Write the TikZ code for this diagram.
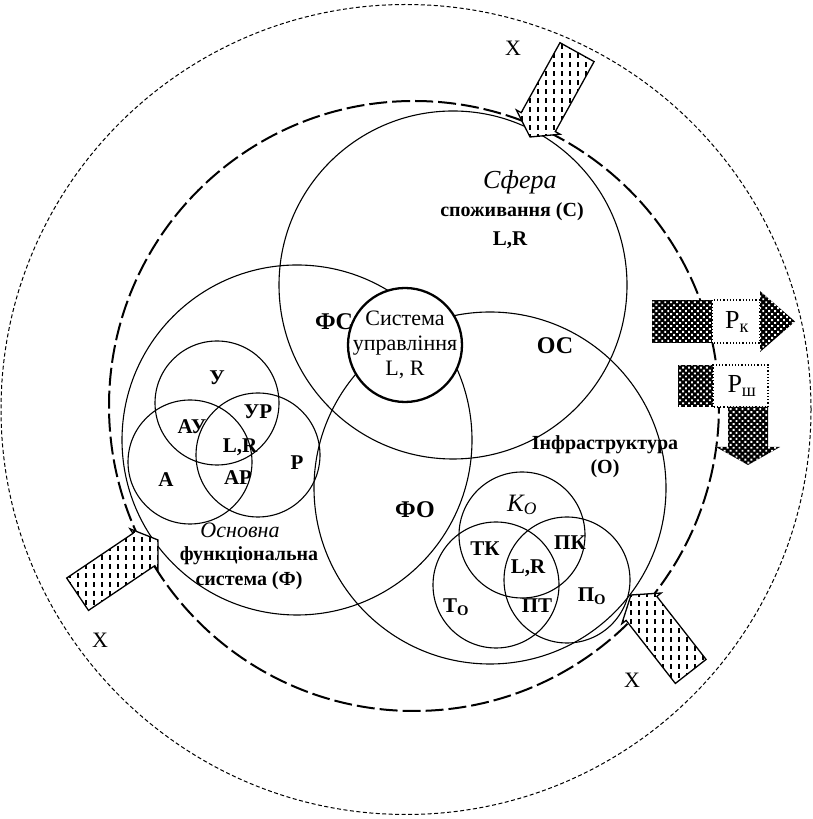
\documentclass[tikz,border=0pt]{standalone}
\usepackage{fontspec}
\setmainfont{Liberation Serif}
\usetikzlibrary{patterns.meta}

\tikzset{
  ring/.style={line width=1.1pt},
  big/.style={font=\fontsize{24}{26}\selectfont\bfseries},
  mid/.style={font=\fontsize{21}{23}\selectfont\bfseries},
  plain/.style={font=\fontsize{22}{25}\selectfont},
  mesh/.style={preaction={fill=black}, pattern={Dots[distance=4.2pt, radius=1.35pt, angle=45]}, pattern color=white},
}

% block arrow with short vertical strokes, tip at #1, pointing to angle #2
\newcommand\xarrow[2]{%
  \begin{scope}[shift={(#1)}, rotate=#2]
    \fill[white] (0,0) -- (-17,-25) -- (-17,-19.5) -- (-97,-19.5) -- (-97,19.5) -- (-17,19.5) -- (-17,25) -- cycle;
    \begin{scope}
      \clip (0,0) -- (-17,-25) -- (-17,-19.5) -- (-97,-19.5) -- (-97,19.5) -- (-17,19.5) -- (-17,25) -- cycle;
      \foreach \i in {-104,-96,...,104}
        \draw[rotate=-#2, line width=1.4pt, dash pattern=on 5pt off 4pt] (\i,-110) -- (\i,110);
    \end{scope}
    \draw[line width=1.3pt, line join=miter] (0,0) -- (-17,-25) -- (-17,-19.5) -- (-97,-19.5) -- (-97,19.5) -- (-17,19.5) -- (-17,25) -- cycle;
  \end{scope}}

\begin{document}
\begin{tikzpicture}[x=1pt,y=1pt]
\useasboundingbox (0,0) rectangle (813,819);

\coordinate (Out) at (406,409.5);
\coordinate (Bnd) at (414,413);
\coordinate (F) at (297,379);
\coordinate (C) at (453,534);
\coordinate (O) at (490,331);
\coordinate (S) at (405,474);
\coordinate (Fu) at (217,416);
\coordinate (Fa) at (190,357);
\coordinate (Fr) at (258,364);
\coordinate (Ok) at (522,284);
\coordinate (Ot) at (496,234);
\coordinate (Op) at (567,239);

\draw[line width=1pt, dash pattern=on 4pt off 2.5pt] (Out) circle (405);
\draw[line width=2pt, dash pattern=on 18pt off 5pt] (Bnd) circle (305);
\draw[ring] (F) circle (175);
\draw[ring] (C) circle (174);
\draw[ring] (O) circle (176);
\filldraw[fill=white, line width=2.3pt] (S) circle (57);
\draw[ring] (Fu) circle (62);
\draw[ring] (Fa) circle (62);
\draw[ring] (Fr) circle (62);
\draw[ring] (Ok) circle (63);
\draw[ring] (Ot) circle (63);
\draw[ring] (Op) circle (63);

\node[font=\fontsize{26}{28}\selectfont\itshape] (sfera) at (520,637) {Сфера};
\node[mid, font=\fontsize{20}{22}\selectfont\bfseries] (spoz) at (512,607) {споживання (С)};
\node[mid] (clr) at (510,579) {L,R};
\node[big] (fs) at (334,497) {ФС};
\node[big] (os) at (555,473) {ОС};
\node[big] (fo) at (415,309) {ФО};
\node[plain, align=center] (sys) at (S) {Система\\управління\\L, R};
\node[mid, font=\fontsize{20}{24}\selectfont\bfseries, align=center] (infra) at (605,362) {Інфраструктура\\(О)};
\node[plain, font=\fontsize{22}{25}\selectfont\itshape] (osn) at (240,289) {Основна};
\node[mid, font=\fontsize{20}{25}\selectfont\bfseries, align=center] (fun) at (249,251) {функціональна\\система (Ф)};

\node[mid] (u) at (217,441) {У};
\node[mid] (au) at (192,392) {АУ};
\node[mid] (ur) at (258,407) {УР};
\node[mid] (flr) at (240,372) {L,R};
\node[mid] (a) at (166,339) {А};
\node[mid] (ar) at (238,341) {АР};
\node[mid] (r) at (297,356) {Р};

\node[font=\fontsize{25}{27}\selectfont\itshape] (ko) at (522,314) {K\textsubscript{O}};
\node[mid] (tk) at (485,270) {ТК};
\node[mid] (pk) at (570,276) {ПК};
\node[mid] (olr) at (528,251) {L,R};
\node[mid] (to) at (456,212) {Т\textsubscript{О}};
\node[mid] (pt) at (537,213) {ПТ};
\node[mid] (po) at (592,223) {П\textsubscript{О}};

\coordinate (xtop) at (530,682);
\coordinate (xleft) at (158,279);
\coordinate (xright) at (631,224);
\xarrow{xtop}{241}
\xarrow{xleft}{34}
\xarrow{xright}{128}
\node[plain] (xt) at (513,771) {X};
\node[plain] (xl) at (100,179) {X};
\node[plain] (xr) at (632,139) {X};

\fill[mesh] (652,476) rectangle (712,519);
\filldraw[fill=white, line width=1.2pt, dotted] (712,476) rectangle (760,519);
\fill[mesh] (760,476) -- (760,467) -- (795,497.5) -- (760,528) -- (760,519) -- cycle;
\node[plain, font=\fontsize{26}{28}\selectfont] (rk) at (737,497) {Р\textsubscript{к}};

\fill[mesh] (678,412) rectangle (713,454);
\filldraw[fill=white, line width=1.2pt, dotted] (713,412) rectangle (768,454);
\fill[mesh] (728,412) -- (728,372) -- (716,372) -- (748,354) -- (780,372) -- (768,372) -- (768,412) -- cycle;
\node[plain, font=\fontsize{26}{28}\selectfont] (rsh) at (742,433) {Р\textsubscript{ш}};

\end{tikzpicture}
\end{document}
